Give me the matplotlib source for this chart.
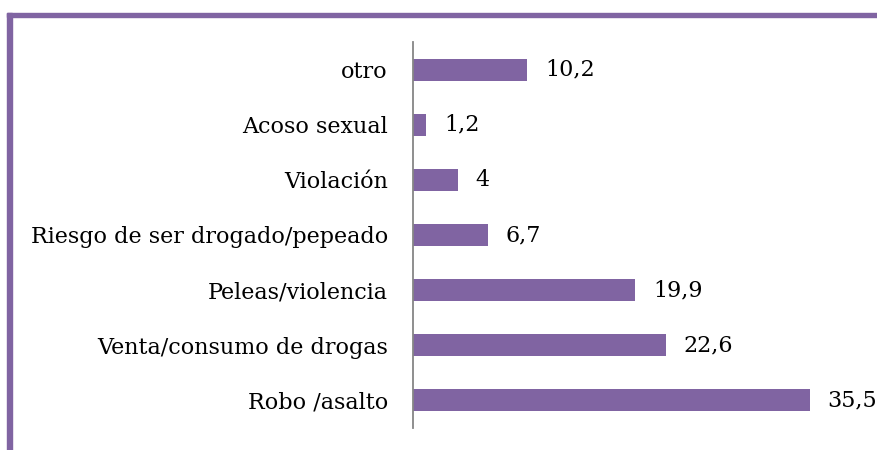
import matplotlib.pyplot as plt
from matplotlib.patches import Rectangle

categorias = ['Robo /asalto', 'Venta/consumo de drogas', 'Peleas/violencia',
              'Riesgo de ser drogado/pepeado', 'Violación', 'Acoso sexual', 'otro']
valores = [35.5, 22.6, 19.9, 6.7, 4, 1.2, 10.2]
etiquetas = ['35,5', '22,6', '19,9', '6,7', '4', '1,2', '10,2']

morado = '#8064A2'
plt.rcParams['font.family'] = ['DejaVu Serif']

fig = plt.figure(figsize=(8.77, 4.5), dpi=100)

# marco morado arriba e izquierda
fig.patches.append(Rectangle((7 / 877, 0), 5 / 877, 1 - 13 / 450,
                             transform=fig.transFigure, color=morado, zorder=0))
fig.patches.append(Rectangle((7 / 877, 1 - 16.5 / 450), 1, 3.5 / 450,
                             transform=fig.transFigure, color=morado, zorder=0))

ax = fig.add_axes([413 / 877, 22 / 450, 447 / 877, 386 / 450])
y = range(len(categorias))
ax.barh(y, valores, height=0.4, color=morado)
for yi, v, t in zip(y, valores, etiquetas):
    ax.text(v + 1.6, yi, t, va='center', ha='left', fontsize=16)

ax.set_xlim(0, 40)
ax.set_ylim(-0.5, 6.5)
ax.set_yticks(list(y))
ax.set_yticklabels(categorias, fontsize=16)
ax.tick_params(axis='y', length=0, pad=18)
ax.set_xticks([])
for s in ['top', 'right', 'bottom']:
    ax.spines[s].set_visible(False)
ax.spines['left'].set_color('#868686')
ax.spines['left'].set_linewidth(1.3)

fig.savefig('out.png', dpi=100)
